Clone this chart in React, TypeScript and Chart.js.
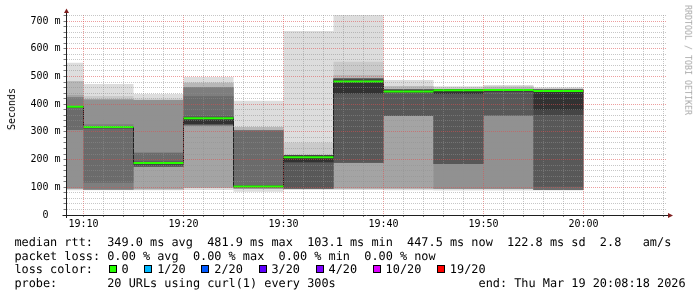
import React, { useEffect, useRef } from "react";
import { Chart, registerables } from "chart.js";

Chart.register(...registerables);

// ---------- data (time = minutes after 19:00, values = milliseconds) ----------
const viewStart = 8.3; // 19:08:18
const viewEnd = 68.3; // 20:08:18
const stepStart = [5, 10, 15, 20, 25, 30, 35, 40, 45, 50, 55];
const stepEnd = 60;

const medianRtt = [390.6, 317.7, 187.7, 349.4, 103.1, 208.3, 481.9, 446, 450, 451, 447.5];

// 20 sorted round-trip times for every 5-minute step (smoke)
const pings1905 = [89, 93, 96, 96, 96, 307, 307, 387, 388, 389, 392, 393, 393, 393, 425, 425, 433, 483, 483, 550];
const pings1910 = [89, 92, 92, 92, 92, 92, 116, 311, 313, 315, 320, 321, 321, 321, 328, 417, 417, 417, 430, 473];
const pings1915 = [89, 93, 93, 93, 174, 174, 174, 174, 180, 184, 190, 192, 192, 225, 225, 415, 415, 415, 420, 437];
const pings1920 = [90, 98, 98, 98, 321, 321, 328, 328, 328, 328, 345, 355, 355, 429, 461, 461, 461, 477, 477, 498];
const pings1925 = [84, 97, 97, 97, 97, 97, 97, 99, 101, 102, 104, 106, 107, 305, 306, 306, 306, 318, 318, 412];
const pings1930 = [90, 96, 96, 96, 96, 96, 96, 96, 190, 190, 214, 216, 216, 216, 216, 216, 216, 216, 261, 664];
const pings1935 = [90, 96, 96, 96, 189, 189, 189, 189, 439, 439, 484, 490, 493, 493, 493, 493, 493, 505, 553, 730];
const pings1940 = [89, 96, 96, 96, 357, 357, 357, 357, 441, 443, 449, 452, 453, 453, 453, 453, 453, 465, 466, 487];
const pings1945 = [88, 94, 94, 94, 94, 184, 184, 184, 437, 437, 452, 454, 454, 454, 454, 454, 454, 455, 462, 465];
const pings1950 = [88, 94, 94, 94, 94, 359, 359, 359, 444, 447, 453, 454, 454, 454, 454, 454, 454, 462, 466, 469];
const pings1955 = [88, 90, 90, 90, 90, 90, 90, 102, 361, 379, 446, 450, 453, 453, 453, 453, 453, 455, 458, 461];
const pingTable = [pings1905, pings1910, pings1915, pings1920, pings1925, pings1930, pings1935, pings1940, pings1945, pings1950, pings1955];

const timeMajor = [10, 20, 30, 40, 50, 60];
const timeLabels = ["19:10", "19:20", "19:30", "19:40", "19:50", "20:00"];
const rttMajor = [0, 100, 200, 300, 400, 500, 600, 700];
const rttLabels = ["0  ", "100 m", "200 m", "300 m", "400 m", "500 m", "600 m", "700 m"];
const rttMax = 722;

const lossLabels = ["0", "1/20", "2/20", "3/20", "4/20", "10/20", "19/20"];
const lossColors = ["#26ff00", "#00b8ff", "#0059ff", "#5e00ff", "#7e00ff", "#dd00ff", "#ff0000"];

const legendMedian = "median rtt:  349.0 ms avg  481.9 ms max  103.1 ms min  447.5 ms now  122.8 ms sd  2.8   am/s";
const legendLoss = "packet loss: 0.00 % avg  0.00 % max  0.00 % min  0.00 % now";
const legendLossTitle = "loss color:  ";
const legendProbe = "probe:       20 URLs using curl(1) every 300s";
const legendEnd = "end: Thu Mar 19 20:08:18 2026";

// ---------- chart construction ----------
const MONO = '"DejaVu Sans Mono", monospace';
const xs = [...stepStart, stepEnd];
const steps = (vals: number[]) => xs.map((x, i) => ({ x, y: vals[Math.min(i, vals.length - 1)] }));
const smokeGray = (k: number) => {
  const c = Math.floor((190 / 10) * (10 - k)) + 50;
  return `rgb(${c},${c},${c})`;
};
const hidden = {
  pointRadius: 0,
  borderWidth: 0,
  borderColor: "rgba(0,0,0,0)",
  stepped: "before" as const,
  fill: false as any,
};

function buildDatasets() {
  const ds: any[] = [];
  for (let k = 1; k <= 10; k++) {
    const lo = pingTable.map((p) => p[k - 1]);
    const hi = pingTable.map((p) => p[20 - k]);
    ds.push({ ...hidden, label: `lo${k}`, data: steps(lo), order: 100 - k });
    ds.push({ ...hidden, label: `smoke${k}`, data: steps(hi), order: 100 - k, fill: "-1", backgroundColor: smokeGray(k) });
  }
  const onePx = rttMax / 200;
  ds.push({ label: "median", data: steps(medianRtt), stepped: "before", borderColor: "#202020", borderWidth: 1, pointRadius: 0, fill: false, order: 2 });
  ds.push({ ...hidden, label: "lossLo", data: steps(medianRtt.map((m) => m - onePx)), order: 1 });
  ds.push({ ...hidden, label: "loss0", data: steps(medianRtt.map((m) => m + onePx)), order: 1, fill: "-1", backgroundColor: lossColors[0] });
  return ds;
}

const minorGrid = "rgba(143,143,143,0.5)";
const majorGrid = "rgba(222,79,79,0.55)";

const axisArrows = {
  id: "axisArrows",
  afterDraw(chart: any) {
    const { ctx, chartArea: a } = chart;
    const ax = Math.round(a.left - 0.5) + 0.5;
    const ay = Math.round(a.bottom - 0.5) + 0.5;
    ctx.save();
    ctx.strokeStyle = "#1f1f1f";
    ctx.lineWidth = 1;
    ctx.beginPath();
    ctx.moveTo(a.left - 4, ay);
    ctx.lineTo(a.left, ay);
    ctx.moveTo(a.right, ay);
    ctx.lineTo(a.right + 2, ay);
    ctx.moveTo(ax, a.bottom);
    ctx.lineTo(ax, a.bottom + 3);
    ctx.moveTo(ax, a.top);
    ctx.lineTo(ax, a.top - 2);
    ctx.stroke();
    ctx.fillStyle = "#7f1f1f";
    ctx.beginPath();
    ctx.moveTo(a.right + 1.5, ay - 2.5);
    ctx.lineTo(a.right + 6.5, ay);
    ctx.lineTo(a.right + 1.5, ay + 2.5);
    ctx.closePath();
    ctx.fill();
    ctx.beginPath();
    ctx.moveTo(ax - 2.5, a.top - 2);
    ctx.lineTo(ax, a.top - 6.5);
    ctx.lineTo(ax + 2.5, a.top - 2);
    ctx.closePath();
    ctx.fill();
    ctx.restore();
  },
};

export default function App() {
  const ref = useRef<HTMLCanvasElement>(null);
  useEffect(() => {
    if (!ref.current) return;
    const chart = new Chart(ref.current, {
      type: "line",
      data: { datasets: buildDatasets() },
      plugins: [axisArrows],
      options: {
        responsive: false,
        animation: false,
        events: [],
        layout: { padding: { left: 0, right: 30.5, top: 15, bottom: 62 }, autoPadding: false } as any,
        plugins: { legend: { display: false }, tooltip: { enabled: false }, title: { display: false } },
        scales: {
          x: {
            type: "linear",
            min: viewStart,
            max: viewEnd,
            afterBuildTicks: (s: any) => {
              const t: any[] = [];
              for (let v = Math.ceil(viewStart / 2) * 2; v <= viewEnd; v += 2) t.push({ value: v });
              s.ticks = t;
            },
            afterFit: (s: any) => {
              s.height = 20;
            },
            grid: {
              z: 1,
              lineWidth: 1,
              color: (c: any) => (c.tick && timeMajor.includes(c.tick.value) ? majorGrid : minorGrid),
              tickLength: 2,
              tickColor: "rgba(31,31,31,0.6)",
            } as any,
            border: { display: true, color: "#1f1f1f", width: 1, dash: [1, 1], z: 2 },
            ticks: {
              autoSkip: false,
              maxRotation: 0,
              minRotation: 0,
              padding: 1,
              color: "#000",
              font: { family: MONO, size: 10 },
              callback: (v: any) => {
                const i = timeMajor.indexOf(Number(v));
                return i >= 0 ? timeLabels[i] : "";
              },
            },
          },
          y: {
            type: "linear",
            min: 0,
            max: rttMax,
            afterBuildTicks: (s: any) => {
              const t: any[] = [];
              for (let v = 0; v <= rttMax; v += 20) t.push({ value: v });
              s.ticks = t;
            },
            afterFit: (s: any) => {
              s.width = 66.5;
            },
            grid: {
              z: 1,
              lineWidth: 1,
              color: (c: any) => (c.tick && rttMajor.includes(c.tick.value) ? majorGrid : minorGrid),
              tickLength: 3,
              tickColor: "rgba(31,31,31,0.6)",
            } as any,
            border: { display: true, color: "#1f1f1f", width: 1, dash: [1, 1], z: 2 },
            ticks: {
              autoSkip: false,
              padding: 3,
              color: "#000",
              font: { family: MONO, size: 10 },
              callback: (v: any) => {
                const i = rttMajor.indexOf(Number(v));
                return i >= 0 ? rttLabels[i] : "";
              },
            },
          },
        },
      },
    });
    return () => chart.destroy();
  }, []);

  const legendFont: React.CSSProperties = {
    position: "absolute",
    left: 14.4,
    fontFamily: MONO,
    fontSize: "11.86px",
    lineHeight: "14px",
    whiteSpace: "pre",
    color: "#000",
    textRendering: "geometricPrecision",
  };
  const rowTop = [234.8, 248.6, 262.4, 276.2];

  return (
    <div style={{ position: "absolute", left: 0, top: 0, width: 697, height: 297, background: "#fff", overflow: "hidden" }}>
      <canvas ref={ref} width={697} height={297} style={{ position: "absolute", left: 0, top: 0 }} />
      <div style={{ position: "absolute", left: 11.5, top: 109.2, width: 0, height: 0 }}>
        <span
          style={{
            position: "absolute",
            left: 0,
            top: 0,
            fontFamily: MONO,
            fontSize: "10px",
            lineHeight: "10px",
            whiteSpace: "pre",
            transform: "translate(-50%,-50%) rotate(-90deg)",
          }}
        >
          Seconds
        </span>
      </div>
      <div style={{ position: "absolute", left: 687.9, top: 60, width: 0, height: 0 }}>
        <span
          style={{
            position: "absolute",
            left: 0,
            top: 0,
            fontFamily: MONO,
            fontSize: "8.3px",
            lineHeight: "8.3px",
            whiteSpace: "pre",
            color: "#a8a8a8",
            transform: "translate(-50%,-50%) rotate(90deg)",
          }}
        >
          RRDTOOL / TOBI OETIKER
        </span>
      </div>
      <div style={{ ...legendFont, top: rowTop[0] }}>{legendMedian}</div>
      <div style={{ ...legendFont, top: rowTop[1] }}>{legendLoss}</div>
      <div style={{ ...legendFont, top: rowTop[2] }}>
        {legendLossTitle}
        {lossLabels.map((lab, i) => (
          <React.Fragment key={lab}>
            <span style={{ display: "inline-block", width: "2ch", height: 9, position: "relative" }}>
              <span
                style={{
                  position: "absolute",
                  left: 1.4,
                  bottom: 0,
                  width: 8,
                  height: 8.5,
                  boxSizing: "border-box",
                  border: "1px solid #000",
                  background: lossColors[i],
                }}
              />
            </span>
            {lab + (i < lossLabels.length - 1 ? "  " : "")}
          </React.Fragment>
        ))}
      </div>
      <div style={{ ...legendFont, top: rowTop[3] }}>{legendProbe.padEnd(65, " ") + legendEnd}</div>
    </div>
  );
}
